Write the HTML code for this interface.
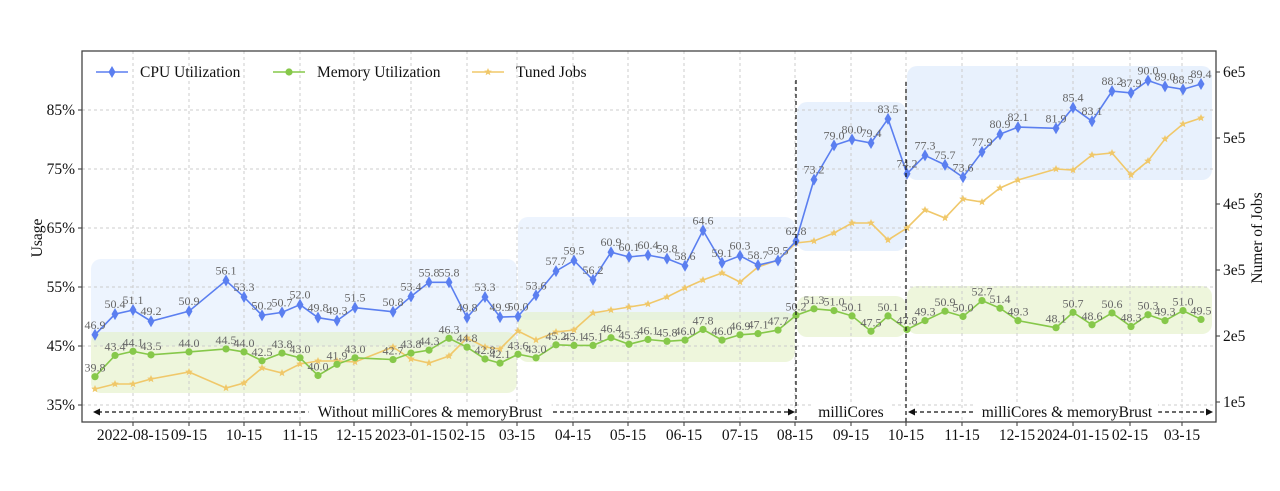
<!DOCTYPE html>
<html><head><meta charset="utf-8"><style>
html,body{margin:0;padding:0;background:#fff;}
svg{display:block;font-family:"Liberation Serif",serif;}
</style></head><body>
<svg id="c" width="1280" height="491" viewBox="0 0 1280 491" xmlns="http://www.w3.org/2000/svg"></svg>
<script>
const S=document.getElementById('c');let h='';
const yU=v=>110+(85-v)*5.9;
const box=(x1,y1,x2,y2,c)=>h+=`<rect x="${x1}" y="${y1}" width="${x2-x1}" height="${y2-y1}" rx="10" fill="${c}"/>`;
box(91,259,517,346,'rgba(214,230,252,0.45)');box(91,332,517,393,'rgba(226,240,196,0.6)');
box(518,217,795,320,'rgba(214,230,252,0.45)');box(518,312,795,362,'rgba(226,240,196,0.6)');
box(797,102,906,251,'rgba(214,230,252,0.55)');box(797,296,906,337,'rgba(226,240,196,0.6)');
box(907,66,1212,180,'rgba(214,230,252,0.55)');box(907,286,1212,334,'rgba(226,240,196,0.6)');
const xt=[[133,'2022-08-15'],[189,'09-15'],[244,'10-15'],[300,'11-15'],[354,'12-15'],[411,'2023-01-15'],[467,'02-15'],[517,'03-15'],[573,'04-15'],[628,'05-15'],[684,'06-15'],[740,'07-15'],[795,'08-15'],[851,'09-15'],[906,'10-15'],[962,'11-15'],[1017,'12-15'],[1073,'2024-01-15'],[1130,'02-15'],[1182,'03-15']];
xt.forEach(([x,t])=>{h+=`<line x1="${x}" y1="51" x2="${x}" y2="422" stroke="#ccc" stroke-dasharray="3,3"/><line x1="${x}" y1="422" x2="${x}" y2="426" stroke="#333"/><text x="${x}" y="440" font-size="15.5" text-anchor="middle" fill="#111">${t}</text>`;});
[35,45,55,65,75,85].forEach(v=>{const y=yU(v);h+=`<line x1="82" y1="${y}" x2="1216" y2="${y}" stroke="#ccc" stroke-dasharray="3,3"/><line x1="78" y1="${y}" x2="82" y2="${y}" stroke="#333"/><text x="75" y="${y+5}" font-size="15.5" text-anchor="end" fill="#111">${v}%</text>`;});
[[6,72],[5,138],[4,204],[3,270],[2,336],[1,402]].forEach(([n,y])=>{h+=`<line x1="1216" y1="${y}" x2="1220" y2="${y}" stroke="#333"/><text x="1223" y="${y+5}" font-size="15.5" fill="#111">${n}e5</text>`;});
const X=[95,115,133,151,189,226,244,262,282,300,318,337,355,393,411,429,449,467,485,500,518,536,556,574,593,611,629,648,667,685,703,722,740,758,778,796,814,834,852,871,888,907,925,945,963,982,1000,1018,1056,1073,1092,1112,1131,1148,1165,1183,1201];
const cpu=[46.9,50.4,51.1,49.2,50.9,56.1,53.3,50.2,50.7,52.0,49.8,49.3,51.5,50.8,53.4,55.8,55.8,49.8,53.3,49.9,50.0,53.6,57.7,59.5,56.2,60.9,60.1,60.4,59.8,58.6,64.6,59.1,60.3,58.7,59.5,62.8,73.2,79.0,80.0,79.4,83.5,74.2,77.3,75.7,73.6,77.9,80.9,82.1,81.9,85.4,83.1,88.2,87.9,90.0,89.0,88.5,89.4];
const mem=[39.8,43.4,44.1,43.5,44.0,44.5,44.0,42.5,43.8,43.0,40.0,41.9,43.0,42.7,43.8,44.3,46.3,44.8,42.8,42.1,43.6,43.0,45.2,45.1,45.1,46.4,45.3,46.1,45.8,46.0,47.8,46.0,46.9,47.1,47.7,50.2,51.3,51.0,50.1,47.5,50.1,47.8,49.3,50.9,50.0,52.7,51.4,49.3,48.1,50.7,48.6,50.6,48.3,50.3,49.3,51.0,49.5];
const tj=[389,384,384,379,372,388,383,368,373,364,361,361,362,347,359,363,356,338,347,349,331,
340,332,330,313,310,307,304,297,288,280,273,282,267,260,243,241,233,223,223,240,
228,210,218,199,202,188,180,169,170,155,153,175,161,139,124,118];
const pl=(ys,c,w)=>h+=`<polyline fill="none" stroke="${c}" stroke-width="${w}" points="${X.map((x,i)=>x+','+ys[i]).join(' ')}"/>`;
const star=(x,y,r,c)=>{let p=[];for(let k=0;k<10;k++){const a=-Math.PI/2+k*Math.PI/5,rr=k%2?r*0.45:r;p.push((x+rr*Math.cos(a)).toFixed(1)+','+(y+rr*Math.sin(a)).toFixed(1));}return `<polygon points="${p.join(' ')}" fill="${c}"/>`;};
const dia=(x,y,c)=>`<polygon points="${x},${y-6} ${x+3.5},${y} ${x},${y+6} ${x-3.5},${y}" fill="${c}"/>`;
pl(tj,'#f0c86a',1.6);X.forEach((x,i)=>h+=star(x,tj[i],4,'#f0c86a'));
pl(mem.map(yU),'#86c84a',1.6);X.forEach((x,i)=>{h+=`<circle cx="${x}" cy="${yU(mem[i])}" r="3.6" fill="#86c84a"/><text x="${x}" y="${yU(mem[i])-5}" font-size="12" fill="#666" text-anchor="middle">${mem[i].toFixed(1)}</text>`;});
pl(cpu.map(yU),'#5b7ff0',1.6);X.forEach((x,i)=>{h+=dia(x,yU(cpu[i]),'#5b7ff0')+`<text x="${x}" y="${yU(cpu[i])-6}" font-size="12" fill="#666" text-anchor="middle">${cpu[i].toFixed(1)}</text>`;});
h+=`<line x1="796" y1="80" x2="796" y2="422" stroke="#111" stroke-dasharray="4,3" stroke-width="1.2"/><line x1="906" y1="82" x2="906" y2="422" stroke="#111" stroke-dasharray="4,3" stroke-width="1.2"/>`;
const arr=(x1,x2,y)=>h+=`<line x1="${x1+5}" y1="${y}" x2="${x2-5}" y2="${y}" stroke="#111" stroke-dasharray="4,3" stroke-width="1.2"/><polygon points="${x1},${y} ${x1+7},${y-3.5} ${x1+7},${y+3.5}" fill="#111"/><polygon points="${x2},${y} ${x2-7},${y-3.5} ${x2-7},${y+3.5}" fill="#111"/>`;
arr(93,795,412);arr(908,1213,412);
const lab=(x,t)=>h+=`<rect x="${x-t.length*3.8}" y="404" width="${t.length*7.6}" height="15" fill="#fff"/><text x="${x}" y="417" font-size="15.5" text-anchor="middle" fill="#111">${t}</text>`;
lab(430,'Without milliCores & memoryBrust');lab(851,'milliCores');lab(1067,'milliCores & memoryBrust');
h+=`<rect x="82" y="51" width="1134" height="371" fill="none" stroke="#444" stroke-width="1.3"/>`;
h+=`<line x1="96" y1="72" x2="128" y2="72" stroke="#5b7ff0" stroke-width="1.6"/>${dia(112,72,'#5b7ff0')}<text x="140" y="77" font-size="15.5" fill="#111">CPU Utilization</text>`;
h+=`<line x1="273" y1="72" x2="305" y2="72" stroke="#86c84a" stroke-width="1.6"/><circle cx="289" cy="72" r="3.6" fill="#86c84a"/><text x="317" y="77" font-size="15.5" fill="#111">Memory Utilization</text>`;
h+=`<line x1="472" y1="72" x2="504" y2="72" stroke="#f0c86a" stroke-width="1.6"/>${star(488,72,4,'#f0c86a')}<text x="516" y="77" font-size="15.5" fill="#111">Tuned Jobs</text>`;
h+=`<text transform="translate(42,238) rotate(-90)" font-size="15.5" text-anchor="middle" fill="#111">Usage</text>`;
h+=`<text transform="translate(1262,238) rotate(-90)" font-size="15.5" text-anchor="middle" fill="#111">Numer of Jobs</text>`;
S.innerHTML=h;
</script>
</body></html>
